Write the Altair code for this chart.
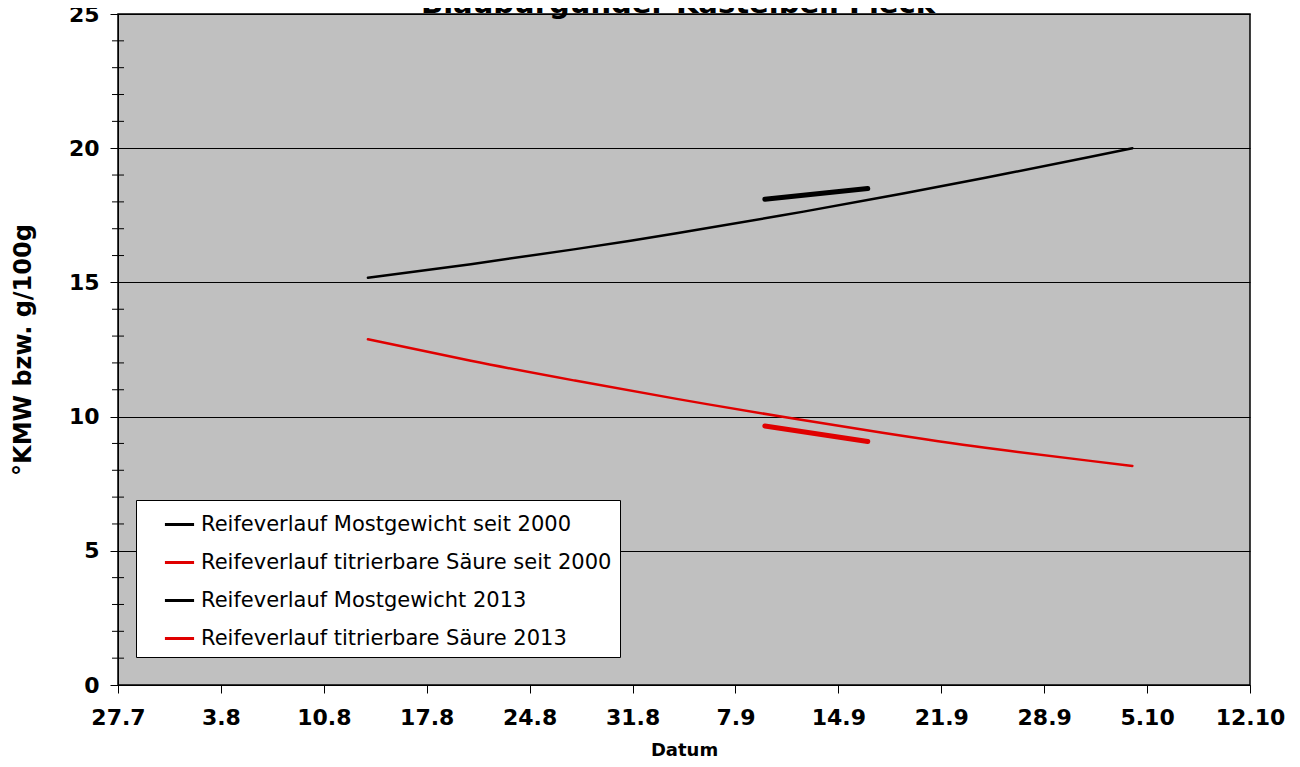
import altair as alt
import pandas as pd

# ---- data ----
series_names = [
    "Reifeverlauf Mostgewicht seit 2000",
    "Reifeverlauf titrierbare Säure seit 2000",
    "Reifeverlauf Mostgewicht 2013",
    "Reifeverlauf titrierbare Säure 2013",
]
series_colors = ["#000000", "#e00000", "#000000", "#e00000"]

avg_dates = ["2013-08-13", "2013-08-20", "2013-08-27", "2013-09-03", "2013-09-10",
             "2013-09-17", "2013-09-24", "2013-10-01", "2013-10-04"]
most_avg = [15.17, 15.68, 16.23, 16.83, 17.48, 18.17, 18.90, 19.66, 20.0]
saeure_avg = [12.88, 12.08, 11.35, 10.66, 10.01, 9.40, 8.84, 8.36, 8.16]

dates_2013 = ["2013-09-09", "2013-09-16"]
most_2013 = [18.1, 18.5]
saeure_2013 = [9.65, 9.07]

tick_days = [(7, 27), (8, 3), (8, 10), (8, 17), (8, 24), (8, 31), (9, 7),
             (9, 14), (9, 21), (9, 28), (10, 5), (10, 12)]
y_major = [0, 5, 10, 15, 20, 25]
y_minor = [v for v in range(1, 25) if v % 5 != 0]

title_text = "Blauburgunder Kastelbell Fleck"
y_title = "°KMW bzw. g/100g"
x_title = "Datum"

# ---- build tables ----
avg_rows = []
for d, v in zip(avg_dates, most_avg):
    avg_rows.append({"date": d, "value": v, "series": series_names[0]})
for d, v in zip(avg_dates, saeure_avg):
    avg_rows.append({"date": d, "value": v, "series": series_names[1]})
cur_rows = []
for d, v in zip(dates_2013, most_2013):
    cur_rows.append({"date": d, "value": v, "series": series_names[2]})
for d, v in zip(dates_2013, saeure_2013):
    cur_rows.append({"date": d, "value": v, "series": series_names[3]})
df_avg = pd.DataFrame(avg_rows)
df_cur = pd.DataFrame(cur_rows)
minor_df = pd.DataFrame({"v": y_minor})
title_df = pd.DataFrame({"t": [title_text]})

FONT = "DejaVu Sans"

def dt(m, d):
    return alt.DateTime(year=2013, month=m, date=d, utc=True)

x_scale = alt.Scale(type="utc", domain=[dt(7, 27), dt(10, 12)])
y_scale = alt.Scale(domain=[0, 25], nice=False, zero=True)

x_axis = alt.Axis(values=[dt(m, d) for m, d in tick_days], format="%-d.%-m",
                  grid=False, tickSize=8, tickColor="black", domainColor="black",
                  labelFont=FONT, labelFontSize=22, labelFontWeight="bold",
                  labelColor="black", labelPadding=14, labelFlush=False,
                  labelOverlap=False,
                  title=x_title, titleFont=FONT, titleFontSize=18,
                  titleFontWeight="bold", titleColor="black", titlePadding=13)

y_axis = alt.Axis(values=y_major, grid=True, gridColor="black", gridWidth=1,
                  tickSize=8, tickColor="black", domainColor="black",
                  labelFont=FONT, labelFontSize=22, labelFontWeight="bold",
                  labelColor="black", labelPadding=11, labelFlush=False,
                  title=y_title, titleFont=FONT, titleFontSize=24,
                  titleFontWeight="bold", titleColor="black", titlePadding=33)

color_enc = alt.Color("series:N",
                      scale=alt.Scale(domain=series_names, range=series_colors),
                      title=None)

lines_avg = alt.Chart(df_avg).mark_line(
    interpolate="natural", strokeCap="round", strokeWidth=2.5
).encode(
    x=alt.X("date:T", scale=x_scale, axis=x_axis),
    y=alt.Y("value:Q", scale=y_scale, axis=y_axis),
    color=color_enc,
)

lines_cur = alt.Chart(df_cur).mark_line(
    interpolate="linear", strokeCap="round", strokeWidth=5
).encode(
    x=alt.X("date:T", scale=x_scale, axis=x_axis),
    y=alt.Y("value:Q", scale=y_scale, axis=y_axis),
    color=color_enc,
)

minor = alt.Chart(minor_df).mark_rule(color="black", strokeWidth=1).encode(
    y=alt.Y("v:Q", scale=y_scale, axis=y_axis),
    x=alt.value(-6),
    x2=alt.value(6),
)

title_mark = alt.Chart(title_df).mark_text(
    font=FONT, fontSize=29, fontWeight="bold", color="black",
    align="center", baseline="alphabetic",
).encode(
    text="t:N",
    x=alt.value(560),
    y=alt.value(-1),
)

chart = alt.layer(lines_avg, lines_cur, minor, title_mark).properties(
    width=1132,
    height=671,
    padding={"left": 110, "top": 6, "right": 40, "bottom": 74},
    autosize=alt.AutoSizeParams(type="none"),
).configure_view(
    fill="#c0c0c0", stroke="black", strokeWidth=1.5
).configure_legend(
    orient="none", legendX=18, legendY=486, fillColor="white", strokeColor="black",
    padding=8, symbolOffset=19, symbolType="stroke", symbolSize=850,
    symbolStrokeWidth=3,
    labelFont=FONT, labelFontSize=21, labelColor="black", labelOffset=5,
    rowPadding=11, labelLimit=700,
)

chart.save("out.html", embed_options={"renderer": "svg", "actions": False})
